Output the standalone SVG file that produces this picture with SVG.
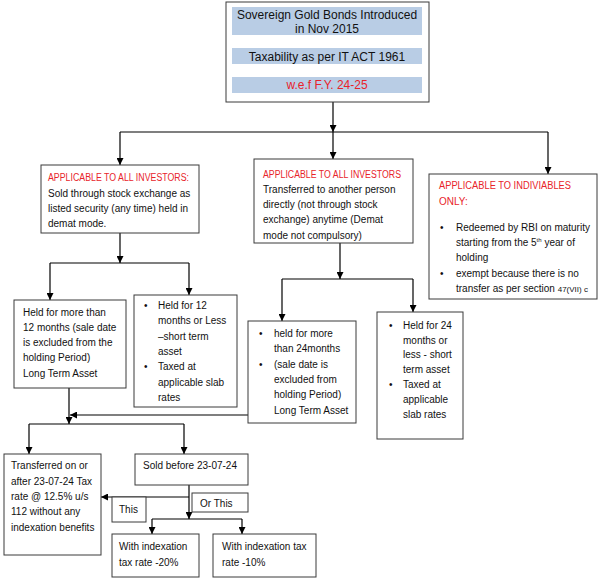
<svg xmlns="http://www.w3.org/2000/svg" width="600" height="580" viewBox="0 0 600 580">
<defs>
<marker id="ah" viewBox="0 0 10 10" refX="10" refY="5" markerWidth="7" markerHeight="7" orient="auto" markerUnits="userSpaceOnUse"><path d="M0,0 L10,5 L0,10 z" fill="#000"/></marker>
<style>
.box{fill:#fff;stroke:#3a3a3a;stroke-width:1}
.band{fill:#b9cde5}
.t{font-family:"Liberation Sans",Arial,sans-serif;font-size:10px;fill:#111}
.h{font-family:"Liberation Sans",Arial,sans-serif;font-size:12px;fill:#111;text-anchor:middle}
.c{fill:none;stroke:#000;stroke-width:1.2}
.a{marker-end:url(#ah)}
text.r{fill:#e8232a}
</style>
</defs>
<rect width="600" height="580" fill="#fff"/>
<g id="connectors">
<path class="c a" d="M333,102 V132"/>
<path class="c" d="M120,132 H548"/>
<path class="c a" d="M120,132 V165"/>
<path class="c a" d="M333,132 V159"/>
<path class="c a" d="M548,132 V174"/>
<path class="c a" d="M120,233 V263"/>
<path class="c" d="M50,263 H189"/>
<path class="c a" d="M50,263 V300"/>
<path class="c a" d="M189,263 V295"/>
<path class="c a" d="M340,243 V279"/>
<path class="c" d="M282,279 H413"/>
<path class="c a" d="M282,279 V321"/>
<path class="c a" d="M413,279 V312"/>
<path class="c a" d="M69,388 V424"/>
<path class="c a" d="M248,415 H70"/>
<path class="c" d="M29,424 H184"/>
<path class="c a" d="M29,424 V454"/>
<path class="c a" d="M184,424 V454"/>
<path class="c a" d="M189,485 V519"/>
<path class="c a" d="M189,497 H101"/>
<path class="c" d="M152,519 H242"/>
<path class="c a" d="M152,519 V534"/>
<path class="c a" d="M242,519 V534"/>
</g>
<g id="top">
<rect class="box" x="226" y="2" width="203" height="100"/>
<rect class="band" x="232" y="7" width="190" height="28"/>
<rect class="band" x="232" y="48" width="190" height="16"/>
<rect class="band" x="232" y="77" width="190" height="16"/>
<text class="h" x="327" y="19">Sovereign Gold Bonds Introduced</text>
<text class="h" x="327" y="33">in Nov 2015</text>
<text class="h" x="327" y="61">Taxability as per IT ACT 1961</text>
<text class="h r" x="327" y="89">w.e.f F.Y. 24-25</text>
</g>
<g id="exchange">
<rect class="box" x="41" y="165" width="158" height="68"/>
<text class="t r" x="48" y="181" textLength="141" lengthAdjust="spacingAndGlyphs">APPLICABLE TO ALL INVESTORS:</text>
<text class="t" x="48" y="197">Sold through stock exchange as</text>
<text class="t" x="48" y="212">listed security (any time) held in</text>
<text class="t" x="48" y="227">demat mode.</text>
</g>
<g id="transfer">
<rect class="box" x="254" y="159" width="159" height="84"/>
<text class="t r" x="263" y="178" textLength="138" lengthAdjust="spacingAndGlyphs">APPLICABLE TO ALL INVESTORS</text>
<text class="t" x="263" y="193">Transferred to another person</text>
<text class="t" x="263" y="208">directly (not through stock</text>
<text class="t" x="263" y="223">exchange) anytime (Demat</text>
<text class="t" x="263" y="239">mode not compulsory)</text>
</g>
<g id="redeem">
<rect class="box" x="429" y="174" width="168" height="125"/>
<text class="t r" x="439" y="189" textLength="132" lengthAdjust="spacingAndGlyphs">APPLICABLE TO INDIVIABLES</text>
<text class="t r" x="439" y="205">ONLY:</text>
<text class="t" x="440" y="231">•</text>
<text class="t" x="456" y="231">Redeemed by RBI on maturity</text>
<text class="t" x="456" y="246">starting from the 5<tspan font-size="6" dy="-4">th</tspan><tspan dy="4"> year of</tspan></text>
<text class="t" x="456" y="261">holding</text>
<text class="t" x="440" y="277">•</text>
<text class="t" x="456" y="277">exempt because there is no</text>
<text class="t" x="456" y="292">transfer as per section <tspan font-size="8">47(VII) c</tspan></text>
</g>
<g id="lt12">
<rect class="box" x="14" y="300" width="112" height="88"/>
<text class="t" x="23" y="316">Held for more than</text>
<text class="t" x="23" y="331">12 months (sale date</text>
<text class="t" x="23" y="346">is excluded from the</text>
<text class="t" x="23" y="361">holding Period)</text>
<text class="t" x="23" y="377">Long Term Asset</text>
</g>
<g id="st12">
<rect class="box" x="134" y="295" width="103" height="112"/>
<text class="t" x="144" y="309">•</text>
<text class="t" x="158" y="309">Held for 12</text>
<text class="t" x="158" y="324">months or Less</text>
<text class="t" x="158" y="340">–short term</text>
<text class="t" x="158" y="355">asset</text>
<text class="t" x="144" y="370">•</text>
<text class="t" x="158" y="370">Taxed at</text>
<text class="t" x="158" y="386">applicable slab</text>
<text class="t" x="158" y="401">rates</text>
</g>
<g id="lt24">
<rect class="box" x="248" y="321" width="108" height="102"/>
<text class="t" x="259" y="337">•</text>
<text class="t" x="274" y="337">held for more</text>
<text class="t" x="274" y="352">than 24months</text>
<text class="t" x="259" y="368">•</text>
<text class="t" x="274" y="368">(sale date is</text>
<text class="t" x="274" y="383">excluded from</text>
<text class="t" x="274" y="398">holding Period)</text>
<text class="t" x="274" y="414">Long Term Asset</text>
</g>
<g id="st24">
<rect class="box" x="377" y="312" width="86" height="127"/>
<text class="t" x="389" y="329">•</text>
<text class="t" x="403" y="329">Held for 24</text>
<text class="t" x="403" y="344">months or</text>
<text class="t" x="403" y="358">less - short</text>
<text class="t" x="403" y="373">term asset</text>
<text class="t" x="389" y="388">•</text>
<text class="t" x="403" y="388">Taxed at</text>
<text class="t" x="403" y="403">applicable</text>
<text class="t" x="403" y="418">slab rates</text>
</g>
<g id="after">
<rect class="box" x="4" y="454" width="97" height="101"/>
<text class="t" x="11" y="469">Transferred on or</text>
<text class="t" x="11" y="485">after 23-07-24 Tax</text>
<text class="t" x="11" y="500">rate @ 12.5% u/s</text>
<text class="t" x="11" y="515">112 without any</text>
<text class="t" x="11" y="531">indexation benefits</text>
</g>
<g id="before">
<rect class="box" x="135" y="454" width="113" height="31"/>
<text class="t" x="143" y="469">Sold before 23-07-24</text>
</g>
<g id="this">
<rect class="box" x="112" y="497" width="34" height="25"/>
<text class="t" x="119" y="513">This</text>
</g>
<g id="orthis">
<rect class="box" x="192" y="493" width="56" height="19"/>
<text class="t" x="200" y="507">Or This</text>
</g>
<g id="idx20">
<rect class="box" x="112" y="534" width="87" height="43"/>
<text class="t" x="119" y="550">With indexation</text>
<text class="t" x="119" y="566">tax rate -20%</text>
</g>
<g id="idx10">
<rect class="box" x="213" y="534" width="103" height="43"/>
<text class="t" x="222" y="550">With indexation tax</text>
<text class="t" x="222" y="566">rate -10%</text>
</g>
</svg>
